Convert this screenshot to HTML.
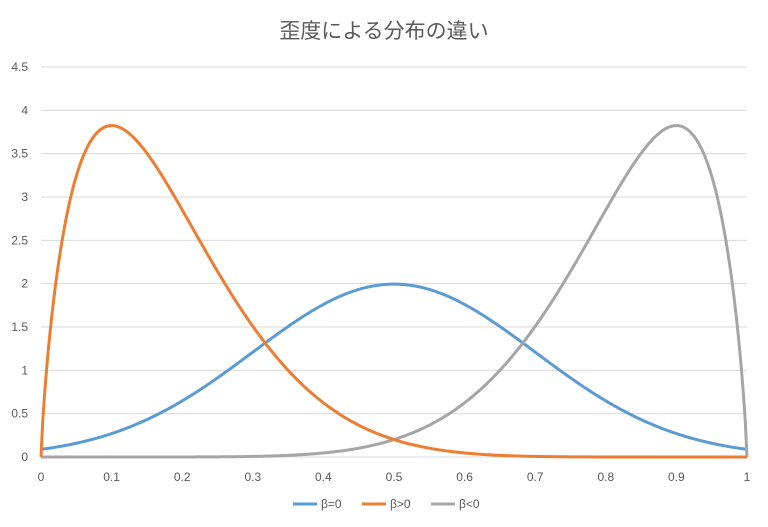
<!DOCTYPE html>
<html><head><meta charset="utf-8"><style>
body{margin:0;background:#fff;}
svg{display:block;font-family:"Liberation Sans","Noto Sans CJK JP",sans-serif;}
</style></head><body>
<svg id="s" width="768" height="527" viewBox="0 0 768 527">
<rect width="768" height="527" fill="#fff"/>
<text x="384" y="38" text-anchor="middle" font-size="21" fill="#595959">歪度による分布の違い</text>
<g id="grid" stroke="#d9d9d9" stroke-width="1"></g>
<g id="ylab" font-size="12" fill="#595959" text-anchor="end"></g>
<g id="xlab" font-size="12" fill="#595959" text-anchor="middle"></g>
<path id="pb" fill="none" stroke="#5B9BD5" stroke-width="3" stroke-linejoin="round"/>
<path id="pg" fill="none" stroke="#A5A5A5" stroke-width="3" stroke-linejoin="round"/>
<path id="po" fill="none" stroke="#ED7D31" stroke-width="3" stroke-linejoin="round"/>
<g font-size="12" fill="#595959">
<line x1="293" y1="504" x2="317" y2="504" stroke="#5B9BD5" stroke-width="3"/><text x="321" y="508">β=0</text>
<line x1="362" y1="504" x2="386" y2="504" stroke="#ED7D31" stroke-width="3"/><text x="390" y="508">β&gt;0</text>
<line x1="431" y1="504" x2="455" y2="504" stroke="#A5A5A5" stroke-width="3"/><text x="459" y="508">β&lt;0</text>
</g>
</svg>
<script>
var X0=41,X1=747,Y0=457,K=86.67,NS="http://www.w3.org/2000/svg";
function el(t,a,p,txt){var e=document.createElementNS(NS,t);for(var k in a)e.setAttribute(k,a[k]);if(txt!=null)e.textContent=txt;document.getElementById(p).appendChild(e);}
for(var i=0;i<=9;i++){var y=Y0-i*0.5*K;el('line',{x1:X0,x2:X1,y1:y,y2:y},'grid');el('text',{x:28,y:y+4},'ylab',String(i*0.5));}
for(var i=0;i<=10;i++){var x=X0+(X1-X0)*i/10;el('text',{x:x,y:481},'xlab',String(i/10));}
function px(x){return X0+(X1-X0)*x;}function py(v){return Y0-v*K;}
function nrm(x){return 1.9947*Math.exp(-Math.pow(x-0.5,2)/0.08);}
function bt(x){if(x<=0||x>=1)return 0;return 51.52*Math.pow(x,0.8)*Math.pow(1-x,7.2);}
function path(f){var d='';for(var i=0;i<=400;i++){var x=i/400;d+=(i?'L':'M')+px(x).toFixed(2)+' '+py(f(x)).toFixed(2);}return d;}
document.getElementById('pb').setAttribute('d',path(nrm));
document.getElementById('po').setAttribute('d',path(bt));
document.getElementById('pg').setAttribute('d',path(function(x){return bt(1-x);}));
</script>
</body></html>
